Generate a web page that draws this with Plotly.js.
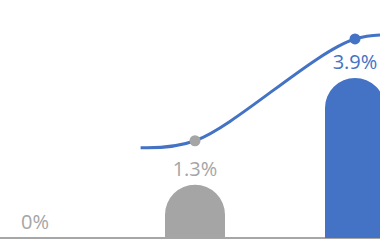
<!DOCTYPE html>
<html>
<head>
<meta charset="utf-8">
<script src="https://cdn.plot.ly/plotly-3.0.1.min.js"></script>
<style>html,body{margin:0;padding:0;background:#fff;}#chart{width:380px;height:242px;}</style>
</head>
<body>
<div id="chart"></div>
<script>
// Data
var barX = [0, 1, 2];
var barValues = [0, 1.3, 3.9];
var barLabels = ["0%", "1.3%", "3.9%"];
var barColors = ["#A5A5A5", "#A5A5A5", "#4472C4"];
var lineX = [0.66, 1, 2, 2.35];
var lineY = [2.2, 2.37, 4.85, 4.9];
var markerColors = ["#4472C4", "#A5A5A5", "#4472C4", "#4472C4"];
var markerSizes = [0, 11, 11, 0];

var traces = [
  {
    type: "bar",
    x: barX,
    y: barValues,
    width: 0.375,
    text: barLabels,
    textposition: "outside",
    textfont: {family: "Open Sans", size: 20, color: barColors},
    marker: {color: barColors, cornerradius: 30},
    cliponaxis: false,
    hoverinfo: "none"
  },
  {
    type: "scatter",
    mode: "lines+markers",
    x: lineX,
    y: lineY,
    line: {color: "#4472C4", width: 3, shape: "spline", smoothing: 1},
    marker: {color: markerColors, size: markerSizes, opacity: 1, line: {width: 0}},
    opacity: 1,
    hoverinfo: "none"
  }
];

var layout = {
  width: 380,
  height: 242,
  margin: {l: 0, r: 0, t: 0, b: 4},
  paper_bgcolor: "#ffffff",
  plot_bgcolor: "#ffffff",
  showlegend: false,
  xaxis: {range: [-0.21875, 2.15625], showgrid: false, zeroline: false, showticklabels: false, ticks: "", showline: false, fixedrange: true},
  yaxis: {range: [0, 5.8], showgrid: false, zeroline: true, zerolinecolor: "#A6A6A6", zerolinewidth: 2, showticklabels: false, ticks: "", showline: false, fixedrange: true}
};

Plotly.newPlot("chart", traces, layout, {displayModeBar: false, staticPlot: true});
</script>
</body>
</html>
